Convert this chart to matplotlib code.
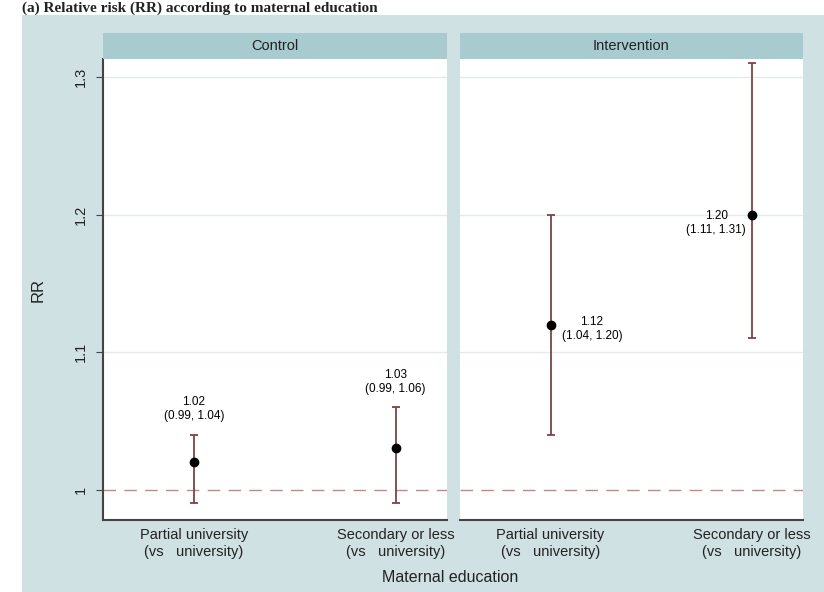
import matplotlib.pyplot as plt
from matplotlib.patches import Rectangle

plt.rcParams['font.family'] = ['Liberation Sans', 'DejaVu Sans']

panels = ['Control', 'Intervention']
categories = ['Partial university\n(vs   university)', 'Secondary or less\n(vs   university)']
xpos = [1, 2]

# relative risk and 95% CI per panel
rr = {'Control': [1.02, 1.03], 'Intervention': [1.12, 1.20]}
lo = {'Control': [0.99, 0.99], 'Intervention': [1.04, 1.11]}
hi = {'Control': [1.04, 1.06], 'Intervention': [1.20, 1.31]}

yticks = [1, 1.1, 1.2, 1.3]
yticklabels = ['1', '1.1', '1.2', '1.3']

W, H = 824, 592
bg = '#cfe1e3'
strip_col = '#a8cbd0'
bar_col = '#7d4444'

fig = plt.figure(figsize=(W / 100, H / 100), dpi=100)
fig.patch.set_facecolor('white')
fig.patches.append(Rectangle((22 / W, 0), 1, 1 - 15 / H, transform=fig.transFigure,
                             facecolor=bg, edgecolor='none', zorder=-1))

fig.text(22 / W, 1 - 12 / H, '(a) Relative risk (RR) according to maternal education',
         family='Liberation Serif', fontsize=11, weight='bold', color='#222222',
         va='baseline', ha='left')

lefts = [103, 460]
widths = [344, 343]
top, bottom = 59, 520

for i, p in enumerate(panels):
    ax = fig.add_axes([lefts[i] / W, (H - bottom) / H, widths[i] / W, (bottom - top) / H])
    ax.set_facecolor('white')
    ax.set_xlim(0.55, 2.255)
    ax.set_ylim(0.978, 1.313)

    for y in yticks[1:]:
        ax.axhline(y, color='#e3eaea', lw=1, zorder=0)
    ax.axhline(1, color='#c98585', lw=1, dashes=(9, 6), zorder=1)

    yerr = [[r - l for r, l in zip(rr[p], lo[p])], [h - r for r, h in zip(rr[p], hi[p])]]
    ax.errorbar(xpos, rr[p], yerr=yerr, fmt='none', ecolor=bar_col, elinewidth=1.3,
                capsize=3, capthick=1.3, zorder=2)
    ax.plot(xpos, rr[p], 'o', color='black', ms=6, zorder=3)

    for j in range(2):
        txt = '%.2f\n(%.2f, %.2f)' % (rr[p][j], lo[p][j], hi[p][j])
        if p == 'Control':
            ax.annotate(txt, (xpos[j], hi[p][j]), xytext=(0, 9), textcoords='offset points',
                        ha='center', va='bottom', multialignment='center', fontsize=8.5)
        elif j == 0:
            ax.annotate(txt, (xpos[j], rr[p][j]), xytext=(8, -3), textcoords='offset points',
                        ha='left', va='center', multialignment='center', fontsize=8.5)
        else:
            ax.annotate(txt, (xpos[j], rr[p][j]), xytext=(-4, -6), textcoords='offset points',
                        ha='right', va='center', multialignment='center', fontsize=8.5)

    ax.set_xticks(xpos)
    ax.set_xticklabels(categories, fontsize=10.5, color='#222222')
    ax.tick_params(axis='x', length=0, pad=6)

    for s in ['top', 'right']:
        ax.spines[s].set_visible(False)
    ax.spines['bottom'].set_color('#444444')
    ax.spines['bottom'].set_linewidth(1.5)

    if i == 0:
        ax.set_yticks(yticks)
        ax.set_yticklabels(yticklabels, rotation=90, va='center', fontsize=10.5, color='#222222')
        ax.tick_params(axis='y', length=5, color='#444444', pad=6)
        ax.spines['left'].set_color('#444444')
        ax.spines['left'].set_linewidth(1.5)
        ax.set_ylabel('RR', fontsize=12, labelpad=20, color='#222222')
    else:
        ax.set_yticks([])
        ax.spines['left'].set_visible(False)

    # panel header strip
    sx = fig.add_axes([lefts[i] / W, (H - top) / H, widths[i] / W, 26 / H])
    sx.set_facecolor(strip_col)
    sx.set_xticks([])
    sx.set_yticks([])
    for s in sx.spines.values():
        s.set_visible(False)
    sx.text(0.5, 0.5, p, ha='center', va='center', fontsize=10.5, color='#222222',
            transform=sx.transAxes)

fig.text(450 / W, 1 - 578 / H, 'Maternal education', ha='center', va='center',
         fontsize=11.5, color='#222222')

plt.savefig('out.png', dpi=100)
